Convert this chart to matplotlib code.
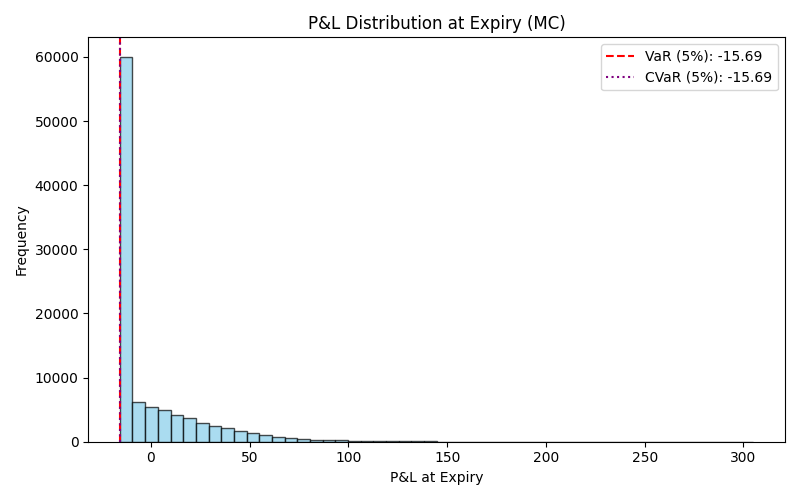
import numpy as np
import matplotlib
matplotlib.use("Agg")
import matplotlib.pyplot as plt

pnl_min = -15.69
pnl_max = 305.0
counts = [60050, 6150, 5360, 4900, 4100, 3650, 2860, 2400, 2080, 1670,
          1300, 990, 780, 620, 470, 310, 210, 200, 150, 110,
          90, 70, 60, 50, 40, 30, 25, 20, 15, 12,
          10, 8, 6, 5, 4, 3, 3, 2, 2, 1,
          1, 1, 1, 0, 0, 0, 0, 0, 0, 1]
var5 = -15.69
cvar5 = -15.69

edges = np.linspace(pnl_min, pnl_max, len(counts) + 1)
centers = (edges[:-1] + edges[1:]) / 2

fig, ax = plt.subplots(figsize=(8, 5), dpi=100)
ax.hist(centers, bins=edges, weights=counts, color="skyblue", alpha=0.7, edgecolor="black")
ax.axvline(var5, color="red", linestyle="--", label=f"VaR (5%): {var5:.2f}")
ax.axvline(cvar5, color="purple", linestyle=":", label=f"CVaR (5%): {cvar5:.2f}")
ax.set_title("P&L Distribution at Expiry (MC)")
ax.set_xlabel("P&L at Expiry")
ax.set_ylabel("Frequency")
ax.legend()
fig.tight_layout()
fig.savefig("out.png")
